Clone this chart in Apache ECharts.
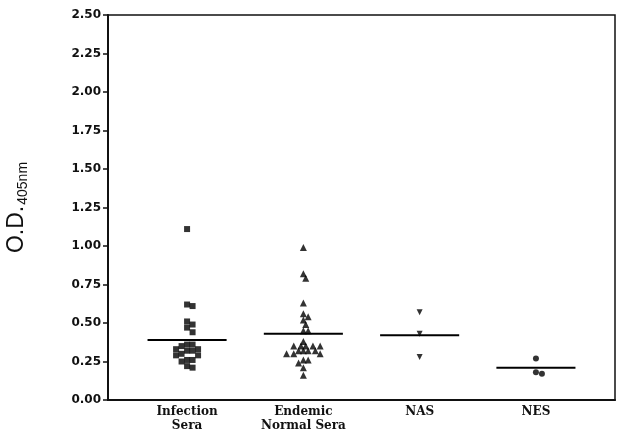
<!DOCTYPE html>
<html>
<head>
<meta charset="utf-8">
<script src="https://cdn.jsdelivr.net/npm/echarts@6/dist/echarts.min.js"></script>
<style>
html,body{margin:0;padding:0;background:#fff;}
#chart{width:628px;height:444px;}
</style>
</head>
<body>
<div id="chart"></div>
<script>
const categories = ['Infection\nSera', 'Endemic\nNormal Sera', 'NAS', 'NES'];
const infectionSera = [1.11, 0.62, 0.61, 0.51, 0.49, 0.47, 0.44, 0.36, 0.36, 0.35, 0.33, 0.33, 0.32, 0.32, 0.30, 0.29, 0.29, 0.26, 0.26, 0.25, 0.22, 0.21];
const endemicNormalSera = [0.99, 0.82, 0.79, 0.63, 0.56, 0.54, 0.52, 0.49, 0.45, 0.45, 0.38, 0.35, 0.35, 0.35, 0.35, 0.35, 0.32, 0.32, 0.32, 0.32, 0.30, 0.30, 0.30, 0.26, 0.26, 0.24, 0.21, 0.16];
const nasValues = [0.57, 0.43, 0.28];
const nesValues = [0.27, 0.18, 0.17];
const groupMeans = [0.39, 0.43, 0.42, 0.21];

// beeswarm layout (computed offsets so markers do not pile up)
const PX_PER_Y = 385 / 2.5;
const PX_PER_X = 507 / 4.36;
function swarm(values, center, diam) {
  const placed = [];
  const out = [];
  const step = diam * 0.5;
  values.forEach(function (v) {
    const py = v * PX_PER_Y;
    let chosen = 0;
    for (let k = 0; k < 40; k++) {
      const cand = (k === 0) ? 0 : ((k % 2 === 1) ? 1 : -1) * Math.ceil(k / 2) * step;
      let ok = true;
      for (const p of placed) {
        const dx = p[0] - cand, dy = p[1] - py;
        if (dx * dx + dy * dy < diam * diam) { ok = false; break; }
      }
      if (ok) { chosen = cand; break; }
    }
    placed.push([chosen, py]);
    out.push([center + chosen / PX_PER_X, v]);
  });
  return out;
}

const chart = echarts.init(document.getElementById('chart'), null, {renderer: 'canvas'});
const option = {
  backgroundColor: '#fff',
  animation: false,
  grid: {
    left: 108, right: 13, top: 15, bottom: 44,
    outerBoundsMode: 'none', containLabel: false,
    show: true, borderColor: '#111', borderWidth: 1.5, backgroundColor: 'transparent'
  },
  xAxis: {
    type: 'value', min: 0.32, max: 4.68,
    splitLine: {show: false},
    axisLine: {show: true, onZero: false, lineStyle: {color: '#111', width: 2}},
    axisTick: {show: false},
    axisLabel: {
      customValues: [1, 2, 3, 4],
      formatter: function (v) { return categories[Math.round(v) - 1] || ''; },
      fontFamily: 'DejaVu Serif', fontWeight: 'bold', fontSize: 12, color: '#111',
      lineHeight: 14, margin: 5
    }
  },
  yAxis: {
    type: 'value', min: 0, max: 2.5, interval: 0.25,
    splitLine: {show: false},
    axisLine: {show: true, lineStyle: {color: '#111', width: 2}},
    axisTick: {show: true, inside: false, length: 5, lineStyle: {color: '#111', width: 1.5}},
    axisLabel: {
      formatter: function (v) { return v.toFixed(2); },
      fontFamily: 'DejaVu Sans', fontWeight: 'bold', fontSize: 12, color: '#111', margin: 7
    },
    name: '{a|O.D.}{b|405nm}',
    nameLocation: 'middle',
    nameGap: 78,
    nameRotate: 90,
    nameTextStyle: {
      rich: {
        a: {fontFamily: 'Liberation Sans', fontSize: 23, color: '#111'},
        b: {fontFamily: 'Liberation Sans', fontSize: 14, color: '#111', padding: [12, 0, 0, 1]}
      }
    }
  },
  series: [
    {
      type: 'scatter', name: 'Infection Sera', symbol: 'rect', symbolSize: 6,
      itemStyle: {color: '#000'},
      data: swarm(infectionSera, 1, 5.5)
    },
    {
      type: 'scatter', name: 'Endemic Normal Sera', symbol: 'triangle', symbolSize: 7,
      itemStyle: {color: '#000'},
      data: swarm(endemicNormalSera, 2, 4.8)
    },
    {
      type: 'scatter', name: 'NAS', symbol: 'path://M0,0 L10,0 L5,10 Z', symbolSize: 6,
      itemStyle: {color: '#000'},
      data: swarm(nasValues, 3, 6)
    },
    {
      type: 'scatter', name: 'NES', symbol: 'circle', symbolSize: 6,
      itemStyle: {color: '#000'},
      data: swarm(nesValues, 4, 6)
    },
    {
      type: 'custom', name: 'Mean',
      data: groupMeans.map(function (m, i) { return [i + 1, m]; }),
      renderItem: function (params, api) {
        const x = api.value(0), y = api.value(1);
        const p1 = api.coord([x - 0.34, y]);
        const p2 = api.coord([x + 0.34, y]);
        return {type: 'line', shape: {x1: p1[0], y1: p1[1], x2: p2[0], y2: p2[1]},
                style: {stroke: '#000', lineWidth: 2}};
      },
      z: 1
    }
  ]
};
chart.setOption(option);
</script>
</body>
</html>
